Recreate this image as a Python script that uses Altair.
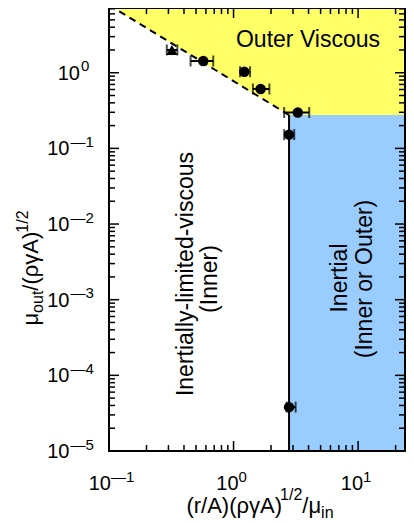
import altair as alt
import pandas as pd

# ---------------- data ----------------
# circles with horizontal error bars
pt_x = [0.571, 1.22, 1.65, 3.28, 2.79, 2.79]
pt_y = [1.43, 1.03, 0.61, 0.298, 0.152, 3.8e-5]
pt_lo = [0.452, 1.128, 1.43, 2.55, 2.55, 2.67]
pt_hi = [0.687, 1.357, 1.94, 4.05, 3.07, 3.15]
# triangle
tri_x = [0.32]
tri_y = [2.0]
tri_lo = [0.291]
tri_hi = [0.354]
# regime boundaries
bound_line_x = [0.1, 2.79]
bound_line_y = [7.85, 0.276]
x_split = 2.79
y_split = 0.276
x_min, x_max = 0.1, 23.8
y_min, y_max = 1e-5, 7.17
# ticks
x_major = [0.1, 1, 10]
x_major_sup = ["\u20141", "0", "1"]
x_minor = [0.2, 0.3, 0.4, 0.5, 0.6, 0.7, 0.8, 0.9,
           2, 3, 4, 5, 6, 7, 8, 9, 20]
y_major = [1e-5, 1e-4, 1e-3, 1e-2, 1e-1, 1]
y_major_sup = ["\u20145", "\u20144", "\u20143", "\u20142", "\u20141", "0"]
y_minor = [m * d for d in [1e-5, 1e-4, 1e-3, 1e-2, 1e-1] for m in range(2, 10)] + [2, 3, 4, 5, 6, 7]

# ---------------- layout/style ----------------
W, H = 296, 443
FONT = "Liberation Sans"
YELLOW = "#ffff66"
BLUE = "#99ccff"
MAJ, MIN = 10, 6
MAIN, SMALL = 22, 16

EM = {"(": .333, ")": .333, "r": .333, "/": .278, "A": .667, "\u03c1": .571,
      "\u03b3": .5, "\u03bc": .576, "o": .556, "u": .556, "t": .278, "i": .222,
      "n": .556, "1": .556, "2": .556}

def tw(s, size):
    return sum(EM.get(c, .556) for c in s) * size

xs = alt.Scale(type="log", domain=[x_min, x_max], nice=False)
ys = alt.Scale(type="log", domain=[y_min, y_max], nice=False)

one = pd.DataFrame({"a": [0]})

yellow_df = pd.DataFrame({
    "x": [bound_line_x[0], x_split, x_max],
    "y": [bound_line_y[0], y_split, y_split],
    "top": [bound_line_y[0]] * 3,
})
yellow = alt.Chart(yellow_df).mark_area(color=YELLOW, clip=True, opacity=1).encode(
    x=alt.X("x:Q", scale=xs, axis=None),
    y=alt.Y("y:Q", scale=ys, axis=None),
    y2="top:Q",
)

blue_df = pd.DataFrame({"x": [x_split], "x2": [x_max], "y": [y_min], "y2": [y_split]})
blue = alt.Chart(blue_df).mark_rect(color=BLUE, opacity=1).encode(
    x=alt.X("x:Q", scale=xs, axis=None), x2="x2:Q",
    y=alt.Y("y:Q", scale=ys, axis=None), y2="y2:Q",
)

vline = alt.Chart(blue_df).mark_rule(color="black", strokeWidth=2).encode(
    x=alt.X("x:Q", scale=xs, axis=None),
    y=alt.Y("y:Q", scale=ys, axis=None), y2="y2:Q",
)

dash_df = pd.DataFrame({"x": bound_line_x, "y": bound_line_y})
dashed = alt.Chart(dash_df).mark_line(color="black", strokeWidth=2, strokeDash=[7, 5], clip=True).encode(
    x=alt.X("x:Q", scale=xs, axis=None),
    y=alt.Y("y:Q", scale=ys, axis=None),
)

pts_df = pd.DataFrame({"x": pt_x, "y": pt_y, "lo": pt_lo, "hi": pt_hi})
tri_df = pd.DataFrame({"x": tri_x, "y": tri_y, "lo": tri_lo, "hi": tri_hi})

def errbars(df):
    bar = alt.Chart(df).mark_rule(color="black", strokeWidth=2).encode(
        x=alt.X("lo:Q", scale=xs, axis=None), x2="hi:Q",
        y=alt.Y("y:Q", scale=ys, axis=None),
    )
    capl = alt.Chart(df).mark_tick(color="black", orient="vertical", size=11, thickness=2).encode(
        x=alt.X("lo:Q", scale=xs, axis=None), y=alt.Y("y:Q", scale=ys, axis=None),
    )
    caph = alt.Chart(df).mark_tick(color="black", orient="vertical", size=11, thickness=2).encode(
        x=alt.X("hi:Q", scale=xs, axis=None), y=alt.Y("y:Q", scale=ys, axis=None),
    )
    return [bar, capl, caph]

circles = alt.Chart(pts_df).mark_point(shape="circle", filled=True, color="black", size=110, opacity=1).encode(
    x=alt.X("x:Q", scale=xs, axis=None), y=alt.Y("y:Q", scale=ys, axis=None),
)
triangle = alt.Chart(tri_df).mark_point(shape="triangle-up", filled=True, color="black", size=130, opacity=1).encode(
    x=alt.X("x:Q", scale=xs, axis=None), y=alt.Y("y:Q", scale=ys, axis=None),
)

# ---- inward ticks on all four sides ----
def xticks(vals, ln):
    df = pd.DataFrame({"v": vals})
    b = alt.Chart(df).mark_rule(color="black", strokeWidth=1.5).encode(
        x=alt.X("v:Q", scale=xs, axis=None), y=alt.value(H), y2=alt.value(H - ln))
    t = alt.Chart(df).mark_rule(color="black", strokeWidth=1.5).encode(
        x=alt.X("v:Q", scale=xs, axis=None), y=alt.value(0), y2=alt.value(ln))
    return [b, t]

def yticks(vals, ln):
    df = pd.DataFrame({"v": vals})
    l = alt.Chart(df).mark_rule(color="black", strokeWidth=1.5).encode(
        y=alt.Y("v:Q", scale=ys, axis=None), x=alt.value(0), x2=alt.value(ln))
    r = alt.Chart(df).mark_rule(color="black", strokeWidth=1.5).encode(
        y=alt.Y("v:Q", scale=ys, axis=None), x=alt.value(W), x2=alt.value(W - ln))
    return [l, r]

frame = alt.Chart(one).mark_rect(fill=None, stroke="black", strokeWidth=2).encode(
    x=alt.value(0), x2=alt.value(W), y=alt.value(0), y2=alt.value(H))

# ---- tick labels ----
xl_df = pd.DataFrame({"v": x_major, "sup": x_major_sup})
ylab_df = pd.DataFrame({"v": y_major, "sup": y_major_sup})

def txt(**kw):
    base = dict(font=FONT, color="black", baseline="alphabetic")
    base.update(kw)
    return base

xlab = []
for cond, dx in [("datum.v < 0.5", 2), ("datum.v >= 0.5", 5)]:
    c = alt.Chart(xl_df).transform_filter(cond)
    xlab.append(c.mark_text(**txt(text="10", align="right", fontSize=20, dx=dx)).encode(
        x=alt.X("v:Q", scale=xs, axis=None), y=alt.value(482)))
    xlab.append(c.mark_text(**txt(align="left", fontSize=15, dx=dx)).encode(
        x=alt.X("v:Q", scale=xs, axis=None), y=alt.value(473.5), text="sup:N"))

ylab = []
for cond, x10 in [("datum.v < 0.5", -39.5), ("datum.v >= 0.5", -29)]:
    c = alt.Chart(ylab_df).transform_filter(cond)
    ylab.append(c.mark_text(**txt(text="10", align="right", fontSize=20, dy=7)).encode(
        x=alt.value(x10), y=alt.Y("v:Q", scale=ys, axis=None)))
    ylab.append(c.mark_text(**txt(align="left", fontSize=15, dy=-1.5)).encode(
        x=alt.value(x10 + 1), y=alt.Y("v:Q", scale=ys, axis=None), text="sup:N"))

def label(text, x, y, size, align="left", angle=0):
    kw = txt(text=text, align=align, fontSize=size)
    if angle:
        kw["angle"] = angle
    return alt.Chart(one).mark_text(**kw).encode(x=alt.value(x), y=alt.value(y))

# x title: pieces laid out left to right, centred under the plot
xt_pieces = [("(r/A)(\u03c1\u03b3A)", MAIN, 0), ("1/2", SMALL, -13), ("/\u03bc", MAIN, 0), ("in", SMALL, 5)]
xt_base = 505
gaps = [-2, 0, 0, 0]
xt_total = sum(tw(s, f) for s, f, _ in xt_pieces) + sum(gaps)
xpos = 151 - xt_total / 2
titles = []
for (s, f, off), g in zip(xt_pieces, gaps):
    titles.append(label(s, xpos, xt_base + off, f))
    xpos += tw(s, f) + g

# y title: rotated, pieces laid out bottom to top
yt_pieces = [("\u03bc", MAIN, 0), ("out", SMALL, 5), ("/(\u03c1\u03b3A)", MAIN, 0), ("1/2", SMALL, -10)]
yt_base = -71
ygaps = [0, 0, -1, 0]
yt_total = sum(tw(s, f) for s, f, _ in yt_pieces) + sum(ygaps)
ypos = 260 + yt_total / 2
for (s, f, off), g in zip(yt_pieces, ygaps):
    titles.append(label(s, yt_base + off, ypos, f, angle=270))
    ypos -= tw(s, f) + g

titles += [
    label("Outer Viscous", 199, 38.7, 23, align="center"),
    label("Inertially-limited-viscous", 84.3, 266, 23, align="center", angle=270),
    label("(Inner)", 108.3, 271, 23, align="center", angle=270),
    label("Inertial", 238.3, 270, 23, align="center", angle=270),
    label("(Inner or Outer)", 262.7, 271, 23, align="center", angle=270),
]

layers = [yellow, blue, vline, dashed] + errbars(pts_df) + errbars(tri_df) + [circles, triangle] \
    + xticks(x_major, MAJ) + xticks(x_minor, MIN) + yticks(y_major, MAJ) + yticks(y_minor, MIN) \
    + [frame] + xlab + ylab + titles

chart = alt.layer(*layers).properties(
    width=W, height=H,
    autosize=alt.AutoSizeParams(type="none"),
    padding={"left": 101, "top": 0, "right": 1, "bottom": 72},
).configure_view(stroke=None).configure(background="white")

chart.save("out.html", embed_options={"renderer": "svg", "actions": False})
